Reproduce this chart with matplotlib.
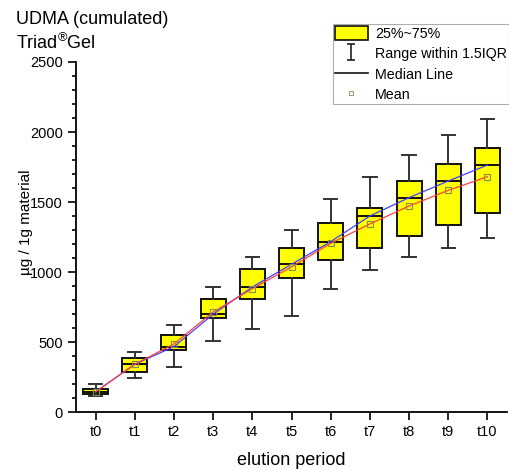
import matplotlib
matplotlib.use("Agg")
import matplotlib.pyplot as plt
from matplotlib.patches import Patch
from matplotlib.lines import Line2D
from matplotlib.path import Path
from matplotlib.ticker import MultipleLocator

plt.rcParams['font.family'] = ['Liberation Sans', 'DejaVu Sans']

# data (ug / 1g material)
periods = ['t0', 't1', 't2', 't3', 't4', 't5', 't6', 't7', 't8', 't9', 't10']
whisker_low = [116, 243, 319, 505, 590, 686, 876, 1012, 1110, 1174, 1240]
q1 = [126, 288, 441, 674, 807, 959, 1088, 1174, 1255, 1333, 1419]
median = [145, 341, 467, 698, 893, 1055, 1217, 1400, 1531, 1650, 1764]
q3 = [162, 383, 548, 805, 1021, 1174, 1350, 1460, 1650, 1769, 1888]
whisker_high = [202, 431, 621, 890, 1110, 1298, 1519, 1679, 1838, 1976, 2093]
mean = [143, 341, 486, 714, 881, 1036, 1205, 1343, 1471, 1583, 1681]

W, H = 509, 469
fig = plt.figure(figsize=(W / 100, H / 100), dpi=100)
ax = fig.add_axes([76 / W, 1 - 412 / H, (507 - 76) / W, (412 - 62) / H])

stats = []
for i in range(len(periods)):
    stats.append(dict(whislo=whisker_low[i], q1=q1[i], med=median[i],
                      q3=q3[i], whishi=whisker_high[i], mean=mean[i],
                      fliers=[], label=periods[i]))
pos = list(range(len(periods)))

ax.bxp(stats, positions=pos, widths=0.64, patch_artist=True, showmeans=False,
       boxprops=dict(facecolor='#ffff00', edgecolor='#111111', linewidth=1.4),
       medianprops=dict(color='#111111', linewidth=1.4),
       whiskerprops=dict(color='#333333', linewidth=1.4),
       capprops=dict(color='#333333', linewidth=1.4),
       capwidths=0.34, zorder=2)

ax.plot(pos, median, color='#4040ff', linewidth=0.9, zorder=3)
ax.plot(pos, mean, color='#ff4040', linewidth=0.9, zorder=3)
ax.plot(pos, mean, linestyle='none', marker='s', markersize=4,
        markerfacecolor='none', markeredgecolor='#8a8a50', markeredgewidth=0.8,
        zorder=4)

ax.set_xlim(-0.5, 10.5)
ax.set_ylim(0, 2500)
ax.yaxis.set_major_locator(MultipleLocator(500))
ax.yaxis.set_minor_locator(MultipleLocator(100))
ax.set_xticks(pos)
ax.set_xticklabels(periods)
for s in ['top', 'right']:
    ax.spines[s].set_visible(False)
for s in ['left', 'bottom']:
    ax.spines[s].set_linewidth(1.3)
ax.tick_params(axis='both', which='major', direction='out', length=6,
               width=1.2, labelsize=10.5)
ax.tick_params(axis='y', which='minor', direction='out', length=3, width=1.2)

ax.set_xlabel('elution period', fontsize=13, labelpad=9)
ax.set_ylabel('\u00b5g / 1g material', fontsize=11)
ax.yaxis.set_label_coords(-(76 - 33) / (507 - 76), (412 - 222) / 350)

fig.text(16 / W, 1 - 20 / H, 'UDMA (cumulated)', fontsize=13, va='center')
fig.text(16 / W, 1 - 43 / H, '$\\mathregular{Triad^{\u00ae}Gel}$', fontsize=13,
         va='center')

ibar = Path([(-0.5, 1), (0.5, 1), (0, 1), (0, -1), (-0.5, -1), (0.5, -1)],
            [Path.MOVETO, Path.LINETO, Path.MOVETO, Path.LINETO,
             Path.MOVETO, Path.LINETO])
handles = [
    Patch(facecolor='#ffff00', edgecolor='#111111', linewidth=1.2),
    Line2D([], [], linestyle='none', marker=ibar, markersize=12,
           markeredgecolor='#222222', markeredgewidth=1.2),
    Line2D([], [], color='#111111', linewidth=1.2),
    Line2D([], [], linestyle='none', marker='s', markersize=3,
           markerfacecolor='none', markeredgecolor='#8a8a50',
           markeredgewidth=0.6),
]
labels = ['25%~75%', 'Range within 1.5IQR', 'Median Line', 'Mean']
leg = fig.legend(handles, labels, loc='upper right',
                 bbox_to_anchor=(509 / W, 1 - 24 / H), fontsize=10.3,
                 frameon=True, fancybox=False, edgecolor='#999999',
                 handlelength=2.3, handleheight=1.1, labelspacing=0.4,
                 handletextpad=0.5, borderpad=0.15, borderaxespad=0)
leg.get_frame().set_linewidth(0.8)

fig.savefig('out.png', dpi=100)
